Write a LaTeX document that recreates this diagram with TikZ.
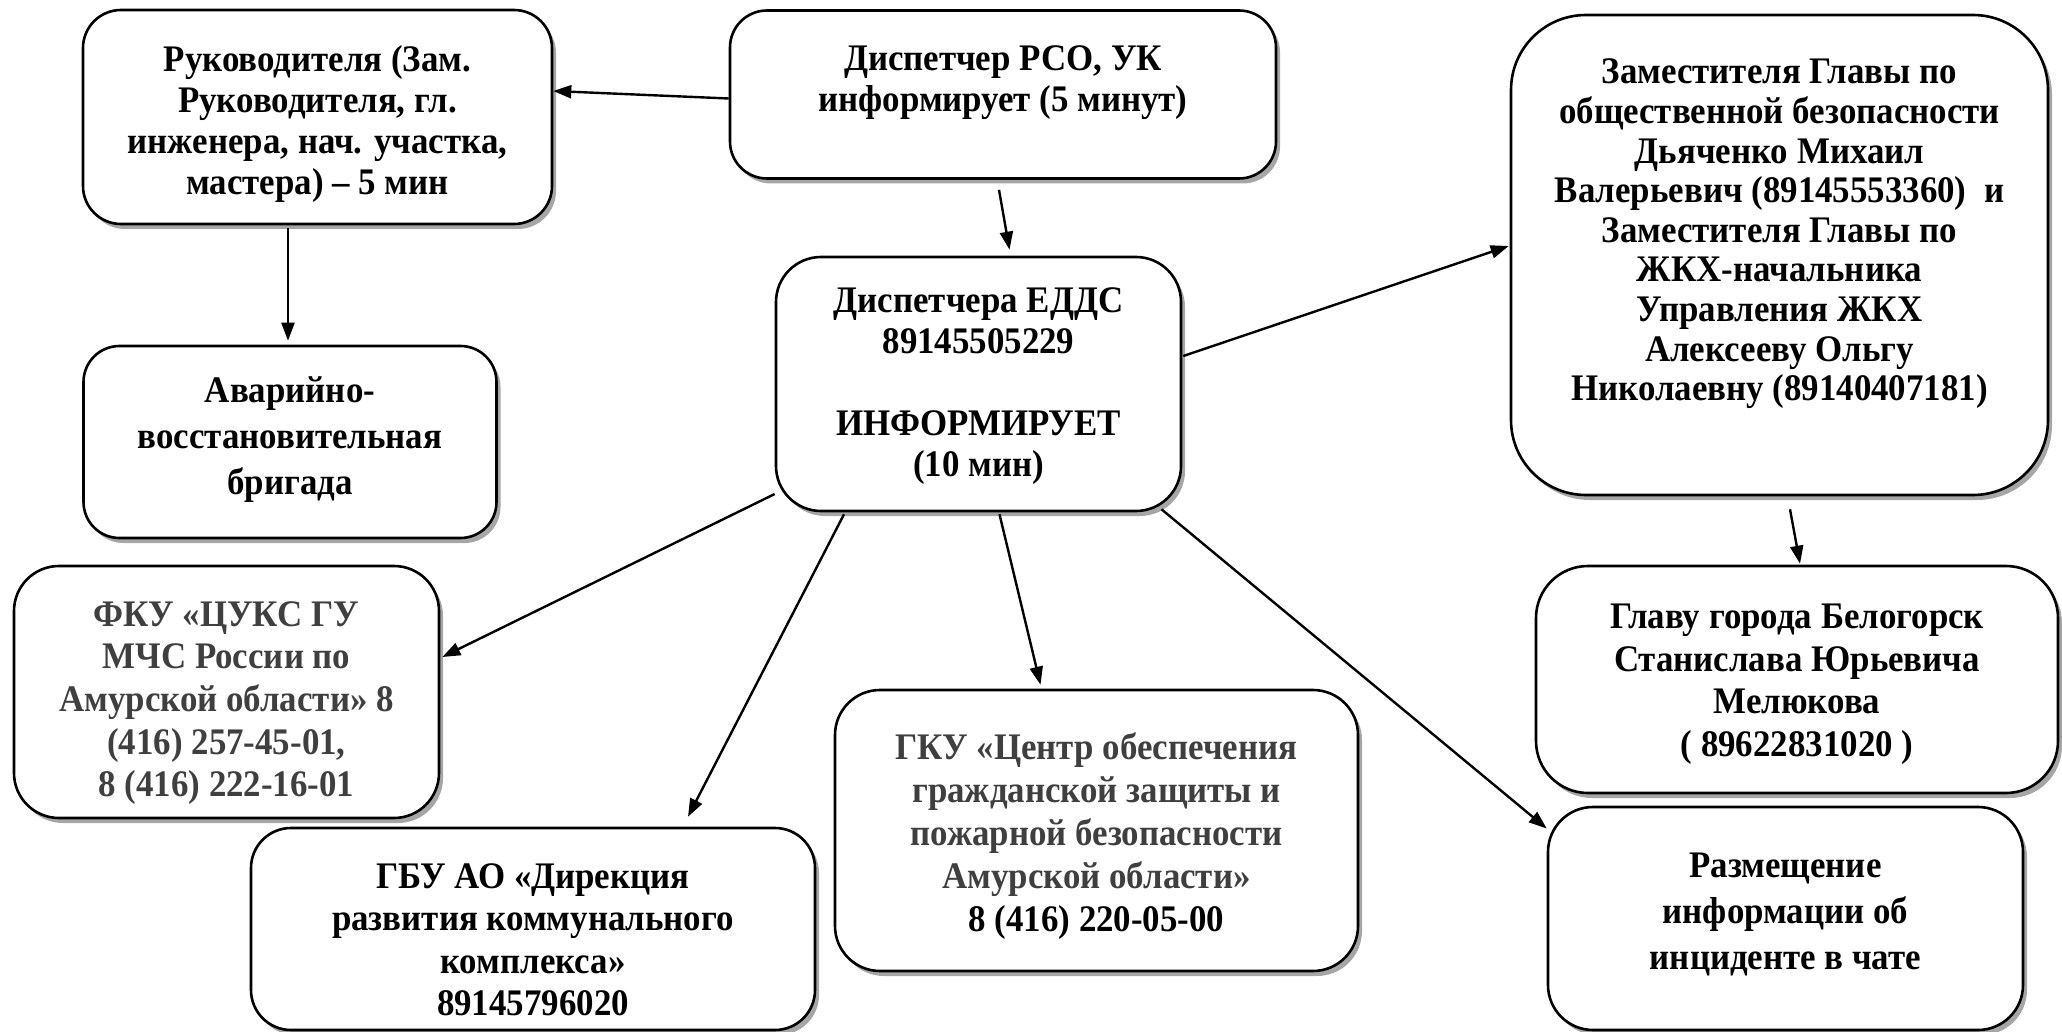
\documentclass[tikz,border=0pt]{standalone}
\usepackage{fontspec}
\setmainfont{Liberation Serif}[FakeStretch=0.93]
\usetikzlibrary{arrows.meta,shadows,calc}
\definecolor{txtgray}{HTML}{3F3F3F}
\pgfdeclarelayer{bg}
\pgfsetlayers{bg,main}
\begin{document}
\begin{tikzpicture}[x=1pt,y=-1pt,
  box/.style={draw, line width=2.6pt, fill=white, rounded corners=#1, inner sep=0pt,
    drop shadow={shadow xshift=4pt, shadow yshift=-5pt, opacity=0.35, fill=black}},
  box/.default=40pt,
  txt/.style={align=center, inner sep=0pt, font=\fontsize{37.5}{#1}\selectfont\bfseries},
  txt/.default=42,
  arr/.style={line width=2.4pt, -{Triangle[length=18pt,width=13pt]}}]
\useasboundingbox (0,0) rectangle (2062,1032);

\node[box=38pt, minimum width=469pt, minimum height=214pt] (b1) at (317.5,117) {};
\node[txt=41.2] (t1) at (317.5,124)
  {Руководителя (Зам.\\Руководителя, гл.\\инженера, нач. участка,\\мастера) – 5 мин};

\node[box=37pt, minimum width=546pt, minimum height=168pt] (b2) at (1003,94.5) {};
\node[txt=40.8] (t2) at (1003,83)
  {Диспетчер РСО, УК\\информирует (5 минут)};

\node[box=45pt, minimum width=405pt, minimum height=254pt] (b3) at (978.5,384) {};
\node[txt=40.8] (t3) at (978.5,386)
  {Диспетчера ЕДДС\\89145505229\\\mbox{}\\ИНФОРМИРУЕТ\\(10 мин)};

\node[box=75pt, minimum width=537pt, minimum height=480pt] (b4) at (1779.5,255) {};
\node[txt=39.6] (t4) at (1779.5,234)
  {Заместителя Главы по\\общественной безопасности\\Дьяченко Михаил\\Валерьевич (89145553360)~~и\\Заместителя Главы по\\ЖКХ-начальника\\Управления ЖКХ\\Алексееву Ольгу\\Николаевну (89140407181)};

\node[box=36pt, minimum width=413pt, minimum height=192pt] (b5) at (290,442) {};
\node[txt=46] (t5) at (290,440)
  {Аварийно-\\восстановительная\\бригада};

\node[box=45pt, minimum width=425pt, minimum height=252pt] (b6) at (226.5,692) {};
\node[txt=42.7, text=txtgray] (t6) at (226.5,703)
  {ФКУ «ЦУКС ГУ\\МЧС России по\\Амурской области» 8\\(416) 257-45-01,\\8 (416) 222-16-01};

\node[box=40pt, minimum width=564pt, minimum height=202pt] (b7) at (533,929) {};
\node[txt=42.5] (t7) at (533,940)
  {ГБУ АО «Дирекция\\развития коммунального\\комплекса»\\89145796020};

\node[box=45pt, minimum width=523pt, minimum height=281pt] (b8) at (1096.5,830.5) {};
\node[txt=43] (t8) at (1096.5,836)
  {\textcolor{txtgray}{ГКУ «Центр обеспечения}\\\textcolor{txtgray}{гражданской защиты и}\\\textcolor{txtgray}{пожарной безопасности}\\\textcolor{txtgray}{Амурской области»}\\8 (416) 220-05-00};

\node[box=52pt, minimum width=522pt, minimum height=227pt] (b9) at (1797,679.5) {};
\node[txt=42.5] (t9) at (1797,684)
  {Главу города Белогорск\\Станислава Юрьевича\\Мелюкова\\( 89622831020 )};

\node[box=45pt, minimum width=475pt, minimum height=223pt] (b10) at (1785.5,918.5) {};
\node[txt=46] (t10) at (1785.5,914)
  {Размещение\\информации об\\инциденте в чате};

\begin{pgfonlayer}{bg}
\draw[arr] ($(b2.west)+(0,4)$) -- ($(b1.east)+(0,-26)$);
\draw[arr] ($(b2.south)+(-4,10)$) -- ($(b3.north)+(31,-6)$);
\draw[arr] ($(b1.south)+(-29.5,3)$) -- ($(b5.north)+(-2,-4)$);
\draw[arr] ($(b3.east)+(1,-28)$) -- ($(b4.west)+(-1,-9)$);
\draw[arr] ($(b3.west)+(0,110)$) -- ($(b6.east)+(2,-35)$);
\draw[arr] ($(b3.south)+(-134.5,2)$) -- ($(b7.north)+(155,-10)$);
\draw[arr] ($(b3.south)+(21,2)$) -- ($(b8.north)+(-56,-4)$);
\draw[arr] ($(b3.south)+(183,-3)$) -- ($(b10.west)+(0,-90)$);
\draw[arr] ($(b4.south)+(10.5,13)$) -- ($(b9.north)+(3,-1)$);
\end{pgfonlayer}
\end{tikzpicture}
\end{document}
